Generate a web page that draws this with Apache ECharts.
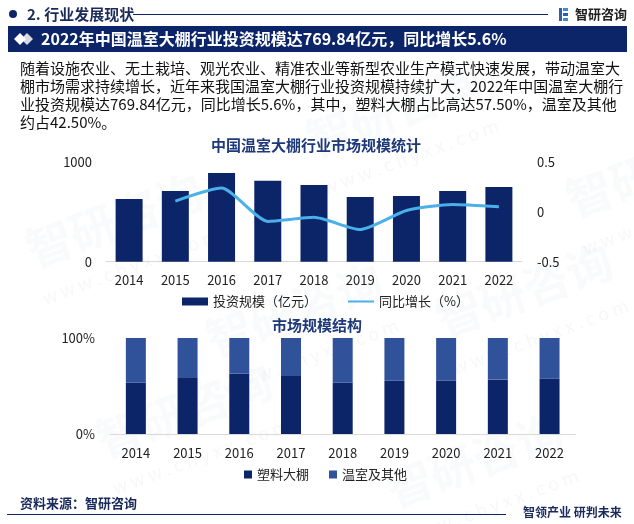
<!DOCTYPE html>
<html><head><meta charset="utf-8">
<script src="https://cdn.jsdelivr.net/npm/echarts@6/dist/echarts.min.js"></script>
<style>html,body{margin:0;padding:0;background:#fff}#c{width:634px;height:524px}</style>
</head><body><div id="c"></div>
<script>
const years = ['2014','2015','2016','2017','2018','2019','2020','2021','2022'];
const investment = [629, 709, 889, 812, 769, 649, 659, 709, 750];
const growth = [null, 0.108, 0.238, -0.096, -0.055, -0.178, 0.013, 0.074, 0.051];
const plasticShare = [0.534, 0.583, 0.628, 0.604, 0.534, 0.555, 0.555, 0.566, 0.575];
const greenhouseShare = [0.466, 0.417, 0.372, 0.396, 0.466, 0.445, 0.445, 0.434, 0.425];
const leftTicks = [0, 1000];
const rightTicks = [-0.5, 0, 0.5];

const NAVY = '#0C2468', BLUE2 = '#30529A', LINE = '#4BAFEA';
const FONT = '"Noto Sans CJK SC","Noto Sans",sans-serif';
const paragraph = '随着设施农业、无土栽培、观光农业、精准农业等新型农业生产模式快速发展，带动温室大\n棚市场需求持续增长，近年来我国温室大棚行业投资规模持续扩大，2022年中国温室大棚行\n业投资规模达769.84亿元，同比增长5.6%，其中，塑料大棚占比高达57.50%，温室及其他\n约占42.50%。';

const wm = [];
const wmPos = [[20,230],[300,120],[430,300],[90,420],[380,470],[560,180],[200,320]];
wmPos.forEach(p => {
  wm.push({type:'text', x:p[0], y:p[1], rotation:0.35, z:-1, silent:true,
    style:{text:'智研咨询', font:'bold 46px '+FONT, fill:'rgba(190,200,215,0.09)'}});
  wm.push({type:'text', x:p[0]+20, y:p[1]+60, rotation:0.35, z:-1, silent:true,
    style:{text:'w w w . c h y x x . c o m', font:'18px '+FONT, fill:'rgba(190,200,215,0.14)'}});
});

const chart = echarts.init(document.getElementById('c'), null, {renderer:'canvas'});
chart.setOption({
  animation:false,
  textStyle:{fontFamily:FONT},
  graphic: wm.concat([
    {type:'circle', shape:{cx:13, cy:14, r:4}, style:{fill:NAVY}},
    {type:'text', x:27, y:14, style:{text:'2. 行业发展现状', font:'bold 15px '+FONT, fill:'#1a2a5a', textVerticalAlign:'middle'}},
    {type:'line', shape:{x1:133, y1:14.5, x2:548, y2:14.5}, style:{stroke:NAVY, lineWidth:1}},
    {type:'rect', shape:{x:559, y:8, width:3, height:13}, style:{fill:'#2b5fb0'}},
    {type:'rect', shape:{x:563, y:8, width:5, height:3}, style:{fill:'#3a8be0'}},
    {type:'rect', shape:{x:563, y:13, width:5, height:3}, style:{fill:'#2b5fb0'}},
    {type:'rect', shape:{x:563, y:18, width:5, height:3}, style:{fill:'#3a8be0'}},
    {type:'text', x:575, y:14, style:{text:'智研咨询', font:'bold 13px '+FONT, fill:'#222', textVerticalAlign:'middle'}},
    {type:'rect', shape:{x:8, y:26, width:619, height:26}, style:{fill:NAVY}},
    {type:'polygon', shape:{points:[[27,33],[33,39],[27,45],[21,39]]}, style:{fill:'#d8dbe3'}},
    {type:'polygon', shape:{points:[[20,33],[26,39],[20,45],[14,39]]}, style:{fill:'#ffffff'}},
    {type:'text', x:41, y:39, style:{text:'2022年中国温室大棚行业投资规模达769.84亿元，同比增长5.6%', font:'bold 16px '+FONT, fill:'#fff', textVerticalAlign:'middle'}},
    {type:'text', x:20, y:59, style:{text:paragraph, font:'15px '+FONT, fill:'#111', lineHeight:18}},
    {type:'text', x:316, y:145, style:{text:'中国温室大棚行业市场规模统计', font:'bold 15px '+FONT, fill:'#1F3A7A', textAlign:'center', textVerticalAlign:'middle'}},
    {type:'text', x:317, y:325, style:{text:'市场规模结构', font:'bold 15px '+FONT, fill:'#1F3A7A', textAlign:'center', textVerticalAlign:'middle'}},
    {type:'text', x:20, y:503, style:{text:'资料来源：智研咨询', font:'bold 13px '+FONT, fill:'#1a2a5a', textVerticalAlign:'middle'}},
    {type:'line', shape:{x1:7, y1:514.5, x2:506, y2:514.5}, style:{stroke:NAVY, lineWidth:1}},
    {type:'text', x:523, y:512, style:{text:'智领产业 研判未来', font:'bold 12px '+FONT, fill:'#1a2a5a', textVerticalAlign:'middle'}}
  ]),
  legend:[
    {left:177, top:290, itemWidth:26, itemHeight:8, itemGap:30,
     data:[{name:'投资规模（亿元）', icon:'rect'}, {name:'同比增长（%）', itemStyle:{opacity:0}}],
     textStyle:{fontSize:13, color:'#222', fontFamily:FONT}},
    {left:239, top:463, itemWidth:8, itemHeight:8, itemGap:20, data:[{name:'塑料大棚', icon:'rect'}, {name:'温室及其他', icon:'rect'}],
     textStyle:{fontSize:13, color:'#222', fontFamily:FONT}}
  ],
  grid:[
    {left:106, width:416, top:162, height:99.7},
    {left:110, width:465.4, top:338, height:96}
  ],
  xAxis:[
    {type:'category', gridIndex:0, data:years, axisTick:{show:false},
     axisLine:{lineStyle:{color:'#d9d9d9'}}, axisLabel:{color:'#222', fontSize:13, margin:12}},
    {type:'category', gridIndex:1, data:years, axisTick:{show:false},
     axisLine:{lineStyle:{color:'#d9d9d9'}}, axisLabel:{color:'#222', fontSize:13, margin:13}}
  ],
  yAxis:[
    {type:'value', gridIndex:0, min:leftTicks[0], max:leftTicks[1], interval:1000, splitLine:{show:false},
     axisLine:{show:false}, axisLabel:{color:'#222', fontSize:13, margin:14, formatter:v=>String(v)}},
    {type:'value', gridIndex:0, min:rightTicks[0], max:rightTicks[2], interval:0.5, position:'right', splitLine:{show:false},
     axisLine:{show:false}, axisLabel:{color:'#222', fontSize:13, margin:15}},
    {type:'value', gridIndex:1, min:0, max:1, interval:1, splitLine:{show:false},
     axisLine:{show:false}, axisLabel:{color:'#222', fontSize:13, margin:15, formatter:v=>Math.round(v*100)+'%'}}
  ],
  series:[
    {name:'投资规模（亿元）', type:'bar', xAxisIndex:0, yAxisIndex:0, data:investment, barWidth:27, itemStyle:{color:NAVY}},
    {name:'同比增长（%）', type:'line', xAxisIndex:0, yAxisIndex:1, data:growth, smooth:0.2, symbol:'none', showSymbol:false,
     lineStyle:{color:LINE, width:3}, itemStyle:{color:LINE}},
    {name:'塑料大棚', type:'bar', xAxisIndex:1, yAxisIndex:2, stack:'s', data:plasticShare, barWidth:20, itemStyle:{color:NAVY}},
    {name:'温室及其他', type:'bar', xAxisIndex:1, yAxisIndex:2, stack:'s', data:greenhouseShare, barWidth:20, itemStyle:{color:BLUE2}}
  ]
});
</script></body></html>
